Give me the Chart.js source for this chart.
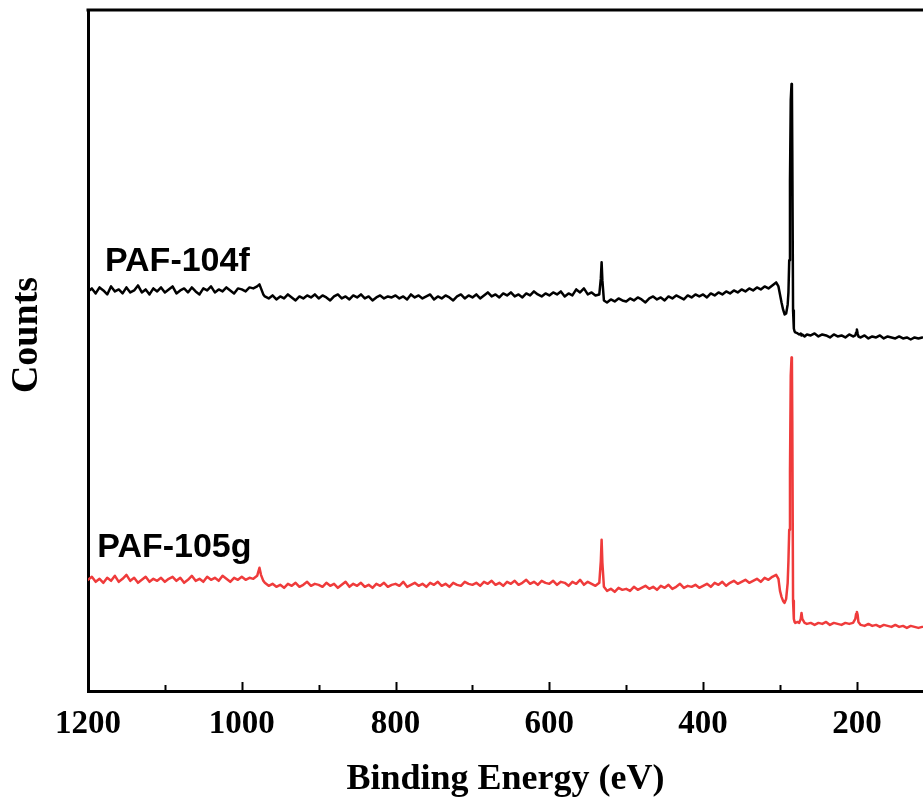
<!DOCTYPE html>
<html>
<head>
<meta charset="utf-8">
<title>XPS survey spectra</title>
<script src="https://cdn.jsdelivr.net/npm/chart.js@4.4.1/dist/chart.umd.min.js"></script>
<style>
  html, body { margin: 0; padding: 0; background: #fff; }
  #wrap { width: 923px; height: 803px; }
</style>
</head>
<body>
<div id="wrap"><canvas id="xps" width="923" height="803"></canvas></div>
<script>
// binding energy (eV), shared by both spectra
const energy = [
  1200,1195,1190,1185,1180,1175,1170,1165,1160,1155,1150,1145,1140,1135,1130,1125,1120,1115,1110,1105,
  1100,1095,1090,1085,1080,1075,1070,1065,1060,1055,1050,1045,1040,1035,1030,1025,1020,1015,1010,1005,
  1000,995,990,985,980,977,975,972,970,965,960,955,950,945,940,935,930,925,920,915,910,905,
  900,895,890,885,880,875,870,865,860,855,850,845,840,835,830,825,820,815,810,805,
  800,795,790,785,780,775,770,765,760,755,750,745,740,735,730,725,720,715,710,705,
  700,695,690,685,680,675,670,665,660,655,650,645,640,635,630,625,620,615,610,605,
  600,595,590,585,580,575,570,565,560,555,550,545,540,535,533,532,531,529,525,520,515,510,505,
  500,495,490,485,480,475,470,465,460,455,450,445,440,435,430,425,420,415,410,405,
  400,395,390,385,380,375,370,365,360,355,350,345,340,335,330,325,320,315,310,305,
  302,300,298,296,294,292,290,289,288,287,286,285,284.5,284,283,282,281,280,277,275,
  273,272,271,268,265,260,255,250,245,240,235,230,225,220,215,210,205,202,201,200,
  199,198,195,190,185,180,175,170,165,160,155,150,145,140,135,130,125,120,115
];

// counts (arbitrary units, spectra stacked with an offset)
const paf104f = [
  399,402,397,403,400,396,404,399,401,397,403,398,400,405,398,401,396,402,399,403,
  398,401,404,397,400,402,398,403,399,396,402,400,404,398,401,399,403,400,397,402,
  401,399,403,402,404,406,402,396,394,392,395,391,394,392,396,393,390,394,392,395,393,396,
  392,395,393,390,394,396,392,394,391,395,393,396,392,394,390,393,395,392,394,393,
  395,392,394,391,396,393,395,392,394,396,391,394,392,395,393,390,394,396,392,395,
  393,396,392,395,398,394,396,393,397,395,398,394,396,393,397,395,399,396,394,397,
  395,398,396,399,394,397,395,401,398,402,396,398,395,396,412,428,410,390,388,391,389,392,390,
  389,392,390,393,391,388,392,394,391,393,390,394,392,395,393,391,395,393,396,394,
  396,393,397,395,398,396,399,397,400,398,401,399,402,400,403,401,404,402,405,408,
  404,396,388,381,376,377,386,398,430,510,590,606,604,540,380,362,359,358,357,356,
  357,355,356,354,356,355,357,354,356,355,353,356,354,355,353,356,354,355,358,361,
  357,354,353,355,352,354,353,355,352,354,353,352,354,352,353,351,353,352,353
];

const paf105g = [
  111,114,109,112,108,113,110,115,109,112,116,110,113,108,111,114,109,112,110,113,
  109,112,114,110,113,108,111,115,110,112,109,114,111,113,110,115,112,109,113,111,
  114,111,113,112,115,123,116,110,108,105,107,104,106,103,107,105,108,104,106,109,105,107,
  106,104,108,105,107,103,106,109,104,107,105,108,104,106,103,107,105,108,104,106,
  107,105,109,104,106,108,105,107,104,108,106,109,105,107,104,108,106,105,109,107,
  106,108,105,109,107,110,106,108,105,109,107,110,106,108,111,107,109,106,110,108,
  107,110,106,109,108,105,109,107,111,106,109,107,105,108,130,151,128,104,100,102,99,103,101,
  102,100,104,101,103,105,102,104,101,105,103,106,102,104,107,103,105,104,106,103,
  105,107,104,108,106,109,105,108,110,107,109,111,108,110,112,109,113,111,114,116,
  112,100,94,90,88,92,108,130,161,220,315,333,330,270,90,72,69,68,69,68,
  72,78,72,68,67,68,66,68,67,69,66,68,67,66,68,67,68,72,77,79,
  76,69,66,65,67,65,66,64,66,65,64,66,64,65,63,65,64,63,64
];

const seriesNames = ["PAF-104f", "PAF-105g"];
const xTickLabels = [1200, 1000, 800, 600, 400, 200];
const xTitle = "Binding Energy (eV)";
const yTitle = "Counts";

const SERIF = "'Liberation Serif', 'Times New Roman', serif";
const SANS = "'Liberation Sans', Arial, sans-serif";

function toPoints(values) {
  return energy.map((e, i) => ({ x: e, y: values[i] }));
}

// top frame line, inward tick marks, y title and the spectrum labels
const decorations = {
  id: "decorations",
  afterDraw(chart) {
    const { ctx, chartArea: a, scales: { x, y } } = chart;
    ctx.save();
    ctx.strokeStyle = "#000";
    ctx.lineWidth = 3;
    ctx.beginPath();
    ctx.moveTo(a.left - 1.5, a.top);
    ctx.lineTo(a.right, a.top);
    ctx.stroke();

    ctx.lineWidth = 2;
    for (let v = 1200; v >= x.min; v -= 100) {
      const px = Math.round(x.getPixelForValue(v)) + 0.5;
      const len = xTickLabels.includes(v) ? 9 : 6;
      ctx.beginPath();
      ctx.moveTo(px, a.bottom);
      ctx.lineTo(px, a.bottom - len);
      ctx.stroke();
    }

    ctx.fillStyle = "#000";
    ctx.save();
    ctx.translate(27, 335);
    ctx.rotate(-Math.PI / 2);
    ctx.font = "bold 38px " + SERIF;
    ctx.textAlign = "center";
    ctx.textBaseline = "middle";
    ctx.fillText(yTitle, 0, 0);
    ctx.restore();

    ctx.font = "bold 34px " + SANS;
    ctx.textBaseline = "alphabetic";
    ctx.textAlign = "left";
    const spots = [[1178, 419], [1188, 134]];
    seriesNames.forEach((name, i) => {
      ctx.fillText(name, x.getPixelForValue(spots[i][0]), y.getPixelForValue(spots[i][1]));
    });
    ctx.restore();
  }
};

new Chart(document.getElementById("xps"), {
  type: "line",
  data: {
    datasets: [
      { label: seriesNames[0], data: toPoints(paf104f), borderColor: "#000000", borderWidth: 2.5 },
      { label: seriesNames[1], data: toPoints(paf105g), borderColor: "#ef3b3b", borderWidth: 2.5 }
    ]
  },
  options: {
    responsive: false,
    animation: false,
    devicePixelRatio: 1,
    layout: { padding: { top: 10, right: 0, left: 0, bottom: 0 } },
    elements: { point: { radius: 0 }, line: { tension: 0, borderJoinStyle: "round", borderCapStyle: "round" } },
    plugins: { legend: { display: false }, tooltip: { enabled: false } },
    scales: {
      x: {
        type: "linear",
        reverse: true,
        min: 114,
        max: 1200,
        afterFit: (s) => { s.height = 112; s.paddingLeft = 0; s.paddingRight = 0; },
        grid: { display: false, drawTicks: false },
        border: { display: true, color: "#000", width: 3 },
        ticks: {
          stepSize: 100,
          includeBounds: false,
          autoSkip: false,
          maxRotation: 0,
          padding: 14,
          color: "#000",
          font: { family: SERIF, size: 33, weight: "bold" },
          callback: (v) => xTickLabels.includes(v) ? String(v) : ""
        },
        title: {
          display: true,
          text: xTitle,
          color: "#000",
          padding: { top: 0, bottom: 2 },
          font: { family: SERIF, size: 36, weight: "bold" }
        }
      },
      y: {
        min: 0,
        max: 680,
        afterFit: (s) => { s.width = 88; },
        grid: { display: false, drawTicks: false },
        border: { display: true, color: "#000", width: 3 },
        ticks: { display: false },
        title: { display: false }
      }
    }
  },
  plugins: [decorations]
});
</script>
</body>
</html>
